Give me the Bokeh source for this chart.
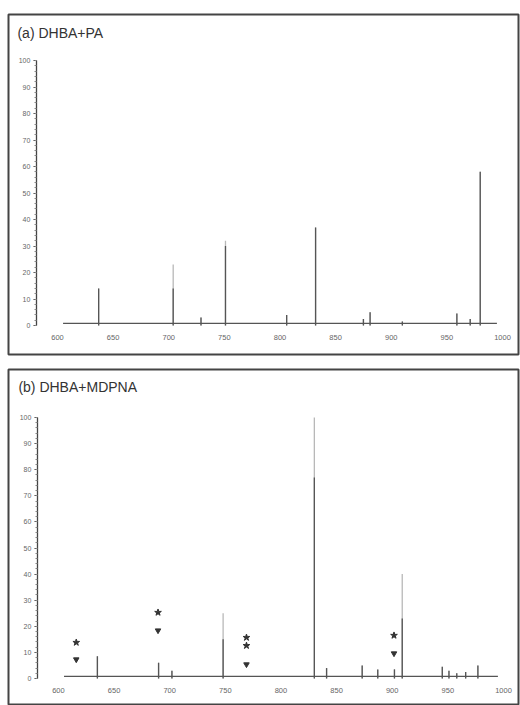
from bokeh.plotting import figure
from bokeh.models import LinearAxis, Label, FixedTicker, Range1d
from bokeh.layouts import column
from bokeh.embed import file_html
from bokeh.resources import INLINE

# ---- data ----
x_ticks = [600, 650, 700, 750, 800, 850, 900, 950, 1000]
y_ticks = [0, 10, 20, 30, 40, 50, 60, 70, 80, 90, 100]
y_minor = [0, 2, 4, 6, 8, 10, 12, 14, 16, 18, 20, 22, 24, 26, 28, 30, 32, 34, 36, 38, 40,
           42, 44, 46, 48, 50, 52, 54, 56, 58, 60, 62, 64, 66, 68, 70, 72, 74, 76, 78, 80,
           82, 84, 86, 88, 90, 92, 94, 96, 98, 100]

# (a) DHBA+PA : peak m/z, full height, strongly inked part of the peak
mz_a = [637, 704, 729, 751, 806, 832, 875, 881, 910, 959, 971, 980]
int_a = [14, 23, 3, 32, 4, 37, 2.5, 5, 1.5, 4.5, 2.5, 58]
dark_a = [14, 14, 3, 30, 4, 37, 2.5, 5, 1.5, 4.5, 2.5, 58]

# (b) DHBA+MDPNA
mz_b = [635, 690, 702, 748, 830, 841, 873, 887, 902, 909, 945, 951, 958, 966, 977]
int_b = [8.5, 6, 3, 25, 100, 4, 5, 3.5, 3.5, 40, 4.5, 3, 2, 2.5, 5]
dark_b = [8.5, 6, 3, 15, 77, 4, 5, 3.5, 3.5, 23, 4.5, 3, 2, 2.5, 5]

# annotation symbols in (b)
star_mz = [616, 689.5, 769, 769, 901.6]
star_y = [13.8, 25.3, 15.7, 12.6, 16.5]
tri_mz = [616, 689.5, 769, 901.6]
tri_y = [7.3, 18.4, 5.4, 9.6]

base_mz = [605, 995]
base_level = [0.8, 0.8]

INK = "#555555"
FAINT = "#b8b8b8"
FONT = "Liberation Sans"


def make_panel(title, mz, inten, dark, height, top, bottom, xr, yr, title_y):
    p = figure(width=520, height=height, x_range=Range1d(*xr), y_range=Range1d(*yr),
               output_backend="svg", toolbar_location=None,
               x_axis_location=None, y_axis_location=None,
               min_border_left=8, min_border_right=2,
               min_border_top=top, min_border_bottom=bottom)
    p.grid.visible = False
    p.outline_line_color = "#444444"
    p.outline_line_width = 2
    p.background_fill_color = "white"
    p.border_fill_color = "white"

    ya = LinearAxis(fixed_location=581, bounds=(0, 100),
                    ticker=FixedTicker(ticks=y_ticks, minor_ticks=y_minor))
    ya.axis_line_color = "#444444"
    ya.axis_line_width = 1.3
    ya.major_tick_out = 3
    ya.major_tick_in = 0
    ya.minor_tick_out = 2
    ya.minor_tick_in = 0
    ya.major_tick_line_color = "#444444"
    ya.minor_tick_line_color = "#888888"
    ya.major_label_text_font_size = "7px"
    ya.major_label_text_font = FONT
    ya.major_label_text_color = "#666666"
    ya.major_label_standoff = 3
    p.add_layout(ya, "left")

    xa = LinearAxis(fixed_location=0, bounds=(600, 1000),
                    ticker=FixedTicker(ticks=x_ticks, minor_ticks=[]))
    xa.axis_line_color = None
    xa.major_tick_line_color = None
    xa.minor_tick_line_color = None
    xa.major_tick_out = 0
    xa.major_tick_in = 0
    xa.major_label_text_font_size = "7.5px"
    xa.major_label_text_font = FONT
    xa.major_label_text_color = "#666666"
    xa.major_label_standoff = 9
    p.add_layout(xa, "below")

    zeros = [0] * len(mz)
    p.segment(x0=mz, y0=zeros, x1=mz, y1=inten, line_color=FAINT, line_width=1.3)
    p.segment(x0=mz, y0=zeros, x1=mz, y1=dark, line_color=INK, line_width=1.3)
    p.line(base_mz, base_level, line_color=INK, line_width=1.3)

    p.add_layout(Label(x=564, y=title_y, text=title, text_font=FONT, text_font_size="14px",
                       text_color="#333333", text_baseline="middle"))
    return p


p1 = make_panel("(a)  DHBA+PA", mz_a, int_a, dark_a, 362, 14, 8,
                (555.96, 1014.4), (-10.94, 117.36), 110.2)
p2 = make_panel("(b)  DHBA+MDPNA", mz_b, int_b, dark_b, 343, 7, 0,
                (555.1, 1013.5), (-10.34, 118.39), 111.5)

p2.scatter(star_mz, star_y, marker="star", size=7, fill_color="#333333", line_color="#333333")
p2.scatter(tri_mz, tri_y, marker="inverted_triangle", size=5.5, fill_color="#333333",
           line_color="#333333")

layout = column(p1, p2, spacing=0)
open("out.html", "w").write(file_html(layout, INLINE))
